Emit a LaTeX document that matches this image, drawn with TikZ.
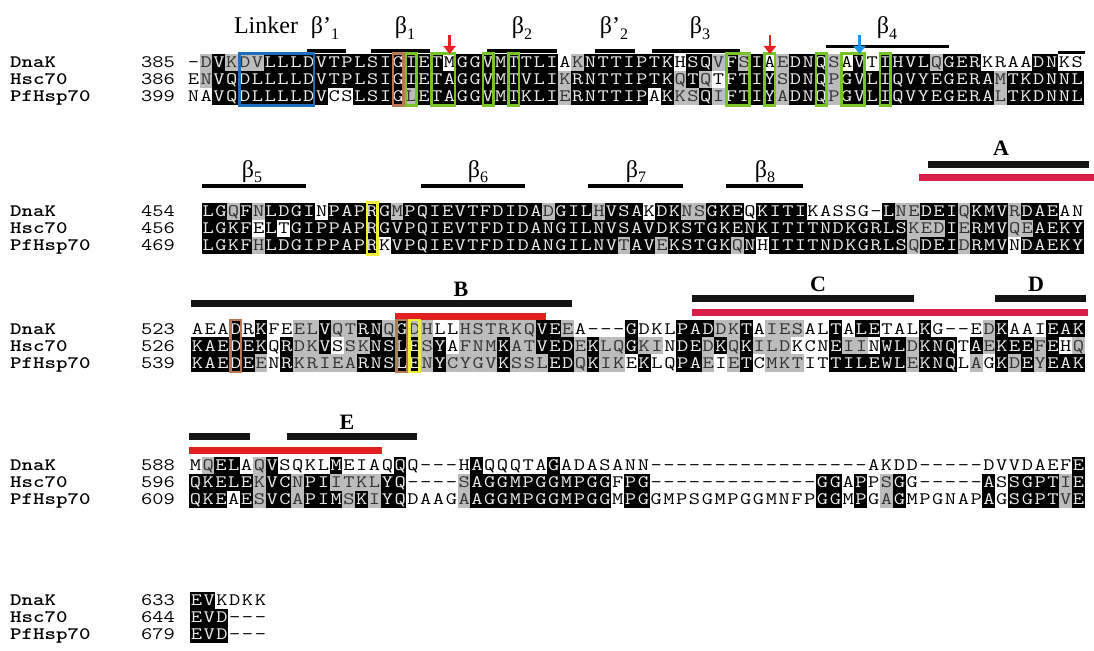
\documentclass[tikz,border=0pt]{standalone}
\usepackage{graphicx}
\usepackage{fontspec}
\setmainfont{Liberation Serif}
\usetikzlibrary{arrows.meta}
\definecolor{shgray}{RGB}{188,188,188}
\definecolor{bxblue}{RGB}{30,110,190}
\definecolor{bxbrown}{RGB}{185,120,85}
\definecolor{bxgreen}{RGB}{120,195,40}
\definecolor{bxyellow}{RGB}{240,235,60}
\definecolor{barred}{RGB}{226,32,32}
\definecolor{barcrim}{RGB}{218,28,72}
\definecolor{arrred}{RGB}{232,34,34}
\definecolor{arrblue}{RGB}{30,150,230}
\newcommand\seqfont{\fontsize{17.5}{17.5}\selectfont\ttfamily}
\newcommand\hs[1]{\scalebox{1.25}[1]{#1}}
\newcommand\bsub[1]{\raisebox{-0.22em}{\fontsize{16}{16}\selectfont #1}}
\makeatletter
\newcommand\seqrow[5]{\def\sq@x{#1}\def\sq@w{#2}\def\sq@y{#3}\def\sq@c{0}\sq@loop#4\relax#5WWWWW\relax}
\def\sq@loop#1#2\relax#3#4\relax{%
  \sq@cell{#1}{#3}%
  \edef\sq@c{\the\numexpr\sq@c+1\relax}%
  \ifx\relax#2\relax\else\sq@loop#2\relax#4\relax\fi}
\newcommand\sq@cell[2]{%
  \pgfmathsetmacro\sq@cx{\sq@x+\sq@w*\sq@c}%
  \if#2B\def\sq@bg{black}\def\sq@fg{white!92!black}\fi
  \if#2G\def\sq@bg{shgray}\def\sq@fg{black!80}\fi
  \if#2W\def\sq@bg{white}\def\sq@fg{black}\fi
  \fill[\sq@bg] (\sq@cx-0.2,\sq@y-8.6) rectangle (\sq@cx+\sq@w+0.2,\sq@y+8.6);
  \node[seqtxt,text=\sq@fg] at (\sq@cx+\sq@w/2,\sq@y+5.4) {\hs{#1}};%
}
\makeatother
\newcommand\colbox[7]{\draw[#1] ({#2+(#4-1)*#3+1.2},#6) rectangle ({#2+#5*#3-1.2},#7);}
\begin{document}
\begin{tikzpicture}[x=1pt,y=-1pt,
  seqtxt/.style={font=\seqfont,inner sep=0pt,anchor=base},
  namelbl/.style={font=\fontsize{17.5}{17.5}\selectfont\ttfamily\bfseries,inner sep=0pt,anchor=base west},
  numlbl/.style={font=\seqfont,inner sep=0pt,anchor=base west},
  sslbl/.style={font=\fontsize{24}{24}\selectfont,inner sep=0pt,anchor=base},
  hxlbl/.style={font=\fontsize{22}{22}\selectfont\bfseries,inner sep=0pt,anchor=base},
  ssbar/.style={line width=3.3pt,black},
  hxbar/.style={line width=7pt,black!92},
  redbar/.style={line width=7pt,barred},
  crimbar/.style={line width=7pt,barcrim},
  gbox/.style={draw=bxgreen,line width=2.6pt},
  bbox/.style={draw=bxblue,line width=2.6pt},
  obox/.style={draw=bxbrown,line width=2.6pt},
  ybox/.style={draw=bxyellow,line width=2.6pt},
  marker/.style={line width=2.6pt,-{Triangle[length=8pt,width=12pt]}}]
\useasboundingbox (0,0) rectangle (1094,650);
\fill[white] (0,0) rectangle (1094,650);

% ---------------- Block 1 ----------------
\node[sslbl] (lLinker) at (266,34) {Linker};
\node[sslbl] (lb1p) at (325,34) {β’\bsub{1}};
\node[sslbl] (lb1) at (405,34) {β\bsub{1}};
\node[sslbl] (lb2) at (522,34) {β\bsub{2}};
\node[sslbl] (lb2p) at (614,34) {β’\bsub{2}};
\node[sslbl] (lb3) at (700,34) {β\bsub{3}};
\node[sslbl] (lb4) at (887,34) {β\bsub{4}};
\draw[ssbar] (307,51) -- (346,51);
\draw[ssbar] (371,51) -- (430,51);
\draw[ssbar] (487,51) -- (557,51);
\draw[ssbar] (595,51) -- (635,51);
\draw[ssbar] (652,51) -- (740,51);
\draw[ssbar] (826,46.5) -- (949,46.5);
\draw[ssbar] (1058,52.5) -- (1085,52.5);

\node[namelbl] (n1a) at (10,67.9) {\hs{DnaK}};
\node[namelbl] (n1b) at (10,84.9) {\hs{Hsc70}};
\node[namelbl] (n1c) at (10,101.9) {\hs{PfHsp70}};
\node[numlbl] (m1a) at (141,67.9) {\hs{385}};
\node[numlbl] (m1b) at (141,84.9) {\hs{386}};
\node[numlbl] (m1c) at (141,101.9) {\hs{399}};
\seqrow{187}{12.81}{62.5}{-DVKDVLLLD VTPLSIGIET MGGVMTTLIA KNTTIPTKHS QVFSIAEDNQ SAVTIHVLQG ERKRAADNKS}{WGBGGGBBBB BBBBBBBBBB WBBBBBBBBW GBBBBBBBWB BGBGBWGBBB GWBWBBBBGB BBWWWWBBWW}
\seqrow{187}{12.81}{79.5}{ENVQDLLLLD VTPLSIGIET AGGVMTVLIK RNTTIPTKQT QTFTIYSDNQ PGVLIQVYEG ERAMTKDNNL}{WGBBBBBBBB BBBBBBBBBB BBBBBBBBBG BBBBBBBBGB GWBBBBGBBB GBBBBBBBBB BBBGBBBBBB}
\seqrow{187}{12.81}{96.5}{NAVQDLLLLD VCSLSIGLET AGGVMTKLIE RNTTIPAKKS QIFTIYADNQ PGVLIQVYEG ERALTKDNNL}{WWBBBBBBBB BWWBBBBGBB BBBBBBBBBG BBBBBBWBGG BGBBBBGBBB GBBBBBBBBB BBBGBBBBBB}
\colbox{bbox}{187}{12.81}{5}{10}{53.5}{105.5}
\colbox{obox}{187}{12.81}{17}{17}{53.5}{105.5}
\colbox{gbox}{187}{12.81}{18}{18}{53.5}{105.5}
\colbox{gbox}{187}{12.81}{20}{21}{53.5}{105.5}
\colbox{gbox}{187}{12.81}{24}{24}{53.5}{105.5}
\colbox{gbox}{187}{12.81}{26}{26}{53.5}{105.5}
\colbox{gbox}{187}{12.81}{43}{44}{53.5}{105.5}
\colbox{gbox}{187}{12.81}{46}{46}{53.5}{105.5}
\colbox{gbox}{187}{12.81}{50}{50}{53.5}{105.5}
\colbox{gbox}{187}{12.81}{52}{53}{53.5}{105.5}
\colbox{gbox}{187}{12.81}{55}{55}{53.5}{105.5}
\coordinate (a1s) at (449.6,35); \coordinate (a1e) at (449.6,54);
\coordinate (a2s) at (769.9,35); \coordinate (a2e) at (769.9,54);
\coordinate (a3s) at (859.5,35); \coordinate (a3e) at (859.5,54);
\draw[marker,arrred] (a1s) -- (a1e);
\draw[marker,arrred] (a2s) -- (a2e);
\draw[marker,arrblue] (a3s) -- (a3e);

% ---------------- Block 2 ----------------
\node[sslbl] (lb5) at (252,177) {β\bsub{5}};
\node[sslbl] (lb6) at (478,177) {β\bsub{6}};
\node[sslbl] (lb7) at (636,177) {β\bsub{7}};
\node[sslbl] (lb8) at (765,177) {β\bsub{8}};
\node[hxlbl] (lA) at (1001,155) {A};
\draw[ssbar] (202,186) -- (306,186);
\draw[ssbar] (421,186) -- (525,186);
\draw[ssbar] (588,186) -- (683,186);
\draw[ssbar] (726,186) -- (803,186);
\draw[hxbar] (928,164) -- (1089,164);
\draw[crimbar] (919,177.5) -- (1094,177.5);

\node[namelbl] (n2a) at (10,216.9) {\hs{DnaK}};
\node[namelbl] (n2b) at (10,233.9) {\hs{Hsc70}};
\node[namelbl] (n2c) at (10,250.9) {\hs{PfHsp70}};
\node[numlbl] (m2a) at (141,216.9) {\hs{454}};
\node[numlbl] (m2b) at (141,233.9) {\hs{456}};
\node[numlbl] (m2c) at (141,250.9) {\hs{469}};
\seqrow{202}{12.6}{211.5}{LGQFNLDGIN PAPRGMPQIE VTFDIDADGI LHVSAKDKNS GKEQKITIKA SSG-LNEDEI QKMVRDAEAN}{BBGBGBBBBW BBBBBGBBBB BBBBBBBGBB BGBBBWBBGG BBBWBBBBWW WWWWBGGBBB GBBBGBBBWW}
\seqrow{202}{12.6}{228.5}{LGKFELTGIP PAPRGVPQIE VTFDIDANGI LNVSAVDKST GKENKITITN DKGRLSKEDI ERMVQEAEKY}{BBBBWBWBBB BBBBBBBBBB BBBBBBBBBB BBBBBBBBBB BBBBBBBBBB BBBBBBGGGB GBBBGGBBBB}
\seqrow{202}{12.6}{245.5}{LGKFHLDGIP PAPRKVPQIE VTFDIDANGI LNVTAVEKST GKQNHITITN DKGRLSQDEI DRMVNDAEKY}{BBBBGBBBBB BBBBWBBBBB BBBBBBBBBB BBBGBBGBBB BBGBWBBBBB BBBBBBGBBB GBBBWBBBBB}
\colbox{ybox}{202}{12.6}{14}{14}{202.5}{254.5}

% ---------------- Block 3 ----------------
\node[hxlbl] (lB) at (461,296) {B};
\node[hxlbl] (lC) at (818,291) {C};
\node[hxlbl] (lD) at (1036,291) {D};
\draw[hxbar] (191,303) -- (572,303);
\draw[redbar] (395,316) -- (546,316);
\draw[hxbar] (692,298) -- (914,298);
\draw[crimbar] (692,312) -- (1088,312);
\draw[hxbar] (995,298) -- (1086,298);

\node[namelbl] (n3a) at (10,334.4) {\hs{DnaK}};
\node[namelbl] (n3b) at (10,351.4) {\hs{Hsc70}};
\node[namelbl] (n3c) at (10,368.4) {\hs{PfHsp70}};
\node[numlbl] (m3a) at (141,334.4) {\hs{523}};
\node[numlbl] (m3b) at (141,351.4) {\hs{526}};
\node[numlbl] (m3c) at (141,368.4) {\hs{539}};
\seqrow{191}{12.77}{329}{AEADRKFEEL VQTRNQGDHL LHSTRKQVEE A---GDKLPA DDKTAIESAL TALETALKG- -EDKAAIEAK}{WWWBWBWWGG BGGBBGBGGW WGGGGGGBBG WWWWBWWWBB BGGBWGGGWW BWBBWWWBWW WWGBWWWBBB}
\seqrow{191}{12.77}{346}{KAEDEKQRDK VSSKNSLESY AFNMKATVED EKLQGKINDE DKQKILDKCN EIINWLDKNQ TAEKEEFEHQ}{BBBBBBWBGG BWGGBBBBGB WGGGBGGBBB GBGGBGGWBB GBGBGGGWWW BGGWBBGBBB WBGBBBGBWG}
\seqrow{191}{12.77}{363}{KAEDEENRKR IEARNSLENY CYGVKSSLED QKIKEKLQPA EIETCMKTIT TILEWLEKNQ LAGKDEYEAK}{BBBBBGWBGG GGGBBBBBGB GGGGBGGGBB GBGGWBWWBB GWGBWGGGWW BBBBBBGBBB WGWBGBGBBB}
\colbox{obox}{191}{12.77}{4}{4}{320}{372}
\colbox{obox}{191}{12.77}{17}{17}{320}{372}
\colbox{ybox}{191}{12.77}{18}{18}{320}{372}

% ---------------- Block 4 ----------------
\node[hxlbl] (lE) at (347,429) {E};
\draw[hxbar] (189,436) -- (250,436);
\draw[hxbar] (287,436) -- (417,436);
\draw[redbar] (189,450) -- (382,450);

\node[namelbl] (n4a) at (10,470.9) {\hs{DnaK}};
\node[namelbl] (n4b) at (10,487.9) {\hs{Hsc70}};
\node[namelbl] (n4c) at (10,504.9) {\hs{PfHsp70}};
\node[numlbl] (m4a) at (141,470.9) {\hs{588}};
\node[numlbl] (m4b) at (141,487.9) {\hs{596}};
\node[numlbl] (m4c) at (141,504.9) {\hs{609}};
\seqrow{189}{12.8}{465.5}{MQELAQVSQK LMEIAQQQ-- -HAQQQTAGA DASANN---- ---------- ---AKDD--- --DVVDAEFE}{WGBBWGBWWW WBWWWWBWWW WWBWWWWWBW WWWWWWWWWW WWWWWWWWWW WWWWWWWWWW WWWWWWWWWB}
\seqrow{189}{12.8}{482.5}{QKELEKVCNP IITKLYQ--- -SAGGMPGGM PGGFPG---- ---------G GAPPSGG--- --ASSGPTIE}{BBBBBGBBGB BGGGGBBWWW WGBBBBBBBB BBBWBBWWWW WWWWWWWWWB BWBWGBWWWW WWBWBBBBGB}
\seqrow{189}{12.8}{499.5}{QKEAESVCAP IMSKIYQDAA GAAGGMPGGM PGGMPGGMPS GMPGGMNFPG GMPGAGMPGN APAGSGPTVE}{BBBWBGBBGB BBGBGBBWWW WGBBBBBBBB BBBWBBWWWW WWWWWWWWWB BWBWGBWWWW WWBWBBBBGB}

% ---------------- Block 5 ----------------
\node[namelbl] (n5a) at (10,605.9) {\hs{DnaK}};
\node[namelbl] (n5b) at (10,622.9) {\hs{Hsc70}};
\node[namelbl] (n5c) at (10,639.9) {\hs{PfHsp70}};
\node[numlbl] (m5a) at (141,605.9) {\hs{633}};
\node[numlbl] (m5b) at (141,622.9) {\hs{644}};
\node[numlbl] (m5c) at (141,639.9) {\hs{679}};
\seqrow{190}{12.8}{600.5}{EVKDKK}{BBWWWW}
\seqrow{190}{12.8}{617.5}{EVD---}{BBBWWW}
\seqrow{190}{12.8}{634.5}{EVD---}{BBBWWW}
\end{tikzpicture}
\end{document}
